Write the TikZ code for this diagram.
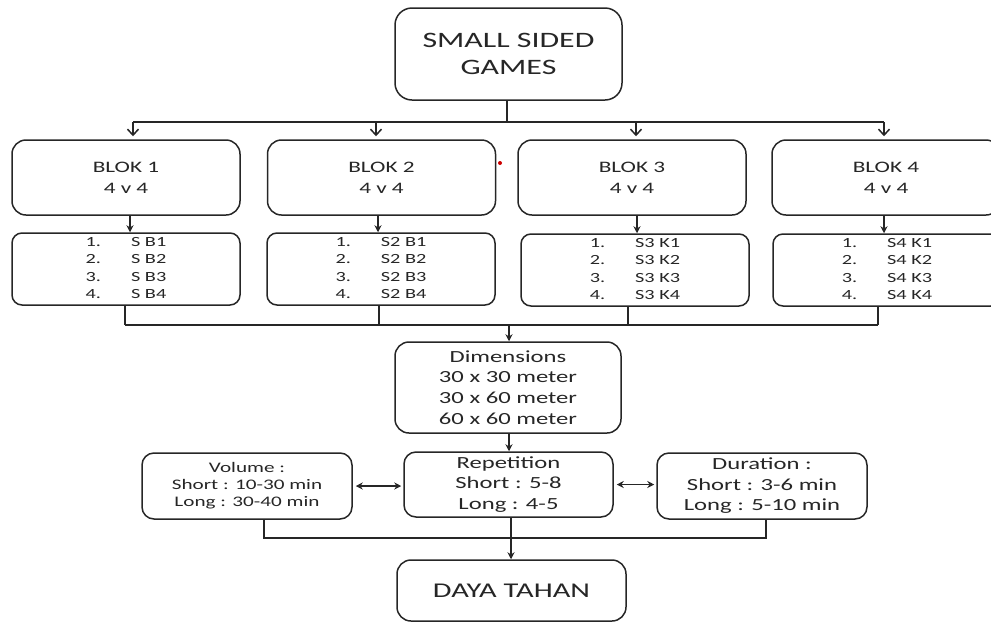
\documentclass[tikz,border=0pt]{standalone}
\usepackage{fontspec}
\setmainfont{Carlito}[FakeStretch=1.45]
\usetikzlibrary{arrows.meta}

\newcommand\sesi[2]{\begin{tabular}{@{}l@{\hspace{30pt}}l@{}}1.&#1 #21\\2.&#1 #22\\3.&#1 #23\\4.&#1 #24\end{tabular}}

\begin{document}
\begin{tikzpicture}[x=1pt, y=-1pt, line width=1.5pt, color=black!85,
    box/.style={draw, rounded corners=14pt, align=center, inner sep=0pt},
    blok/.style={box, minimum width=228, minimum height=75, font=\fontsize{16}{21}\selectfont},
    daftar/.style={box, rounded corners=10pt, minimum width=228, minimum height=72, font=\fontsize{14}{17.5}\selectfont},
    opn/.style={-{Straight Barb[length=6pt,width=11pt]}},
    sld/.style={-{Stealth[length=7pt,width=7pt]}},
    dbl/.style={{Stealth[length=7pt,width=7pt]}-{Stealth[length=7pt,width=7pt]}, shorten <=3pt, shorten >=2pt}]
    \useasboundingbox (0,0) rectangle (991,622);
    \node[box, rounded corners=17pt, minimum width=227, minimum height=92, font=\fontsize{22}{27}\selectfont] (ssg) at (508.5,54) {SMALL SIDED\\GAMES};
    \node[blok] (b1) at (126,177.5) {BLOK 1\\4 v 4};
    \node[blok] (b2) at (381.5,177.5) {BLOK 2\\4 v 4};
    \node[blok] (b3) at (632,177.5) {BLOK 3\\4 v 4};
    \node[blok] (b4) at (886,177.5) {BLOK 4\\4 v 4};
    \node[daftar] (l1) at (126,269) {\sesi{S}{B}};
    \node[daftar] (l2) at (381,269) {\sesi{S2}{B}};
    \node[daftar] (l3) at (635,270) {\sesi{S3}{K}};
    \node[daftar] (l4) at (887,270) {\sesi{S4}{K}};
    \node[box, minimum width=226, minimum height=91, font=\fontsize{17}{20.7}\selectfont] (dim) at (508,387.5) {Dimensions\\30 x 30 meter\\30 x 60 meter\\60 x 60 meter};
    \node[box, rounded corners=12pt, minimum width=209, minimum height=65, font=\fontsize{17}{20.5}\selectfont] (rep) at (508.5,484.5) {Repetition\\Short : 5-8\\Long : 4-5};
    \node[box, rounded corners=12pt, minimum width=210, minimum height=66, font=\fontsize{14.6}{17}\selectfont] (vol) at (247,486) {Volume :\\Short : 10-30 min\\Long : 30-40 min};
    \node[box, rounded corners=12pt, minimum width=210, minimum height=66, font=\fontsize{17}{20.5}\selectfont] (dur) at (762,486) {Duration :\\Short : 3-6 min\\Long : 5-10 min};
    \node[box, minimum width=229, minimum height=61, font=\fontsize{21}{25}\selectfont] (daya) at (511.5,590.5) {DAYA TAHAN};
    \fill[red!80!black] (500,163) circle (2);

    \coordinate (bus1) at (507,122);
    \coordinate (bus2) at (509,325);
    \coordinate (bus3) at (511,538);
    \draw (ssg.south -| bus1) -- (bus1);
    \draw ([xshift=7]b1.north |- bus1) -- ([xshift=-2]b4.north |- bus1);
    \foreach \n/\d in {b1/7, b2/-5.5, b3/4, b4/-2}
        \draw[opn] ([xshift=\d]\n.north |- bus1) -- ([xshift=\d, yshift=3]\n.north);
    \foreach \n/\m/\d in {b1/l1/4, b2/l2/-3.5, b3/l3/5, b4/l4/-2}
        \draw[sld] ([xshift=\d]\n.south) -- ([xshift=\d]\n.south |- \m.north);
    \foreach \m/\d in {l1/-1, l2/-2, l3/-7, l4/-9}
        \draw ([xshift=\d]\m.south) -- ([xshift=\d]\m.south |- bus2);
    \draw ([xshift=-1]l1.south |- bus2) -- ([xshift=-9]l4.south |- bus2);
    \draw[sld] (bus2) -- (bus2 |- dim.north);
    \draw[sld] (dim.south -| bus2) -- (bus2 |- rep.north);
    \draw[dbl] (vol.east) -- (vol.east -| rep.west);
    \draw[dbl] (rep.east) -- (rep.east -| dur.west);
    \draw ([xshift=17]vol.south) |- (bus3) -| ([xshift=4]dur.south);
    \draw[sld] (rep.south -| bus3) -- (bus3 |- daya.north);
\end{tikzpicture}
\end{document}
